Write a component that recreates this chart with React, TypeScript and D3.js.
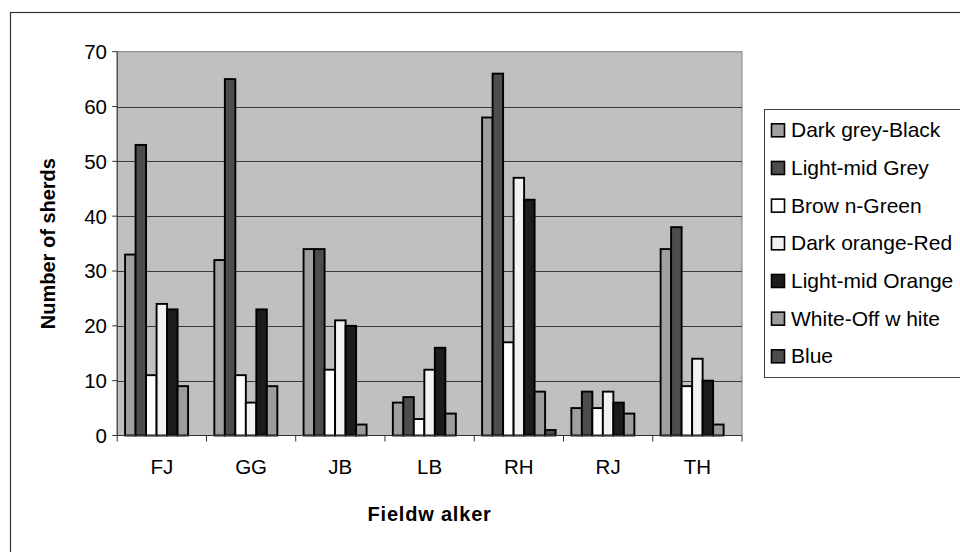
import React from 'react';
import * as d3 from 'd3';

const categories = ['FJ', 'GG', 'JB', 'LB', 'RH', 'RJ', 'TH'];
const seriesNames = ['Dark grey-Black', 'Light-mid Grey', 'Brow n-Green', 'Dark orange-Red', 'Light-mid Orange', 'White-Off w hite', 'Blue'];
const darkGreyBlack = [33, 32, 34, 6, 58, 5, 34];
const lightMidGrey = [53, 65, 34, 7, 66, 8, 38];
const brownGreen = [11, 11, 12, 3, 17, 5, 9];
const darkOrangeRed = [24, 6, 21, 12, 47, 8, 14];
const lightMidOrange = [23, 23, 20, 16, 43, 6, 10];
const whiteOffWhite = [9, 9, 2, 4, 8, 4, 2];
const blue = [0, 0, 0, 0, 1, 0, 0];
const yTicks = [0, 10, 20, 30, 40, 50, 60, 70];
const seriesColors = ['#a0a0a0', '#4d4d4d', '#ffffff', '#f2f2f2', '#1c1c1c', '#9c9c9c', '#4d4d4d'];

const allSeries = [darkGreyBlack, lightMidGrey, brownGreen, darkOrangeRed, lightMidOrange, whiteOffWhite, blue];

export default function App() {
  const W = 960, H = 552;
  const left = 117.2, right = 742, top = 51.7, bottom = 435.5;
  const font = '"Liberation Sans", Arial, sans-serif';

  const x = d3.scaleBand<string>().domain(categories).range([left, right]).paddingInner(0).paddingOuter(0);
  const bw = x.bandwidth();
  const barW = bw / 8.5;
  const gap = (bw - barW * 7) / 2;
  const y = d3.scaleLinear().domain([0, 70]).range([bottom, top]);

  const legendBase = 137.3;
  const legendStep = 37.67;

  return (
    <svg width={W} height={H} style={{ position: 'absolute', left: 0, top: 0, background: '#fff' }}>
      <rect x={10.5} y={12.5} width={W + 20} height={H + 20} fill="#fff" stroke="#333" strokeWidth={1.2} />
      <rect x={left} y={top} width={right - left} height={bottom - top} fill="#c0c0c0" stroke="#808080" strokeWidth={1} />
      {yTicks.slice(1, -1).map((t) => (
        <line key={'g' + t} x1={left} x2={right} y1={Math.round(y(t)) + 0.5} y2={Math.round(y(t)) + 0.5} stroke="#3a3a3a" strokeWidth={1} />
      ))}
      {allSeries.map((vals, si) =>
        vals.map((v, ci) =>
          v > 0 ? (
            <rect
              key={si + '-' + ci}
              x={(x(categories[ci]) as number) + gap + si * barW}
              y={y(v)}
              width={barW}
              height={y(0) - y(v)}
              fill={seriesColors[si]}
              stroke="#000"
              strokeWidth={1.9}
            />
          ) : null
        )
      )}
      {/* axes */}
      <line x1={left} x2={left} y1={top} y2={bottom} stroke="#333" strokeWidth={1} />
      <line x1={left} x2={right} y1={bottom} y2={bottom} stroke="#333" strokeWidth={1} />
      {yTicks.map((t) => (
        <g key={'t' + t}>
          <line x1={left - 5} x2={left} y1={y(t)} y2={y(t)} stroke="#333" />
          <text x={107} y={y(t)} dy="0.36em" textAnchor="end" fontFamily={font} fontSize={20.5} fill="#000">{t}</text>
        </g>
      ))}
      {d3.range(categories.length + 1).map((i) => (
        <line key={'xt' + i} x1={left + i * bw} x2={left + i * bw} y1={bottom} y2={bottom + 6} stroke="#333" />
      ))}
      {categories.map((c) => (
        <text key={c} x={(x(c) as number) + bw / 2} y={474} textAnchor="middle" fontFamily={font} fontSize={20.5} fill="#000">{c}</text>
      ))}
      <text x={(left + right) / 2} y={521} textAnchor="middle" fontFamily={font} fontSize={20} fontWeight="bold" letterSpacing={0.8} fill="#000">Fieldw alker</text>
      <text transform={`translate(55,${(top + bottom) / 2}) rotate(-90)`} textAnchor="middle" fontFamily={font} fontSize={20} fontWeight="bold" fill="#000">Number of sherds</text>
      {/* legend */}
      <rect x={764.5} y={109.5} width={260} height={268} fill="#fff" stroke="#404040" strokeWidth={1} />
      {seriesNames.map((n, i) => (
        <g key={n}>
          <rect x={771.5} y={legendBase + i * legendStep - 13.5} width={13} height={13} fill={seriesColors[i]} stroke="#000" strokeWidth={1.6} />
          <text x={791} y={legendBase + i * legendStep} fontFamily={font} fontSize={21} fill="#000">{n}</text>
        </g>
      ))}
    </svg>
  );
}
